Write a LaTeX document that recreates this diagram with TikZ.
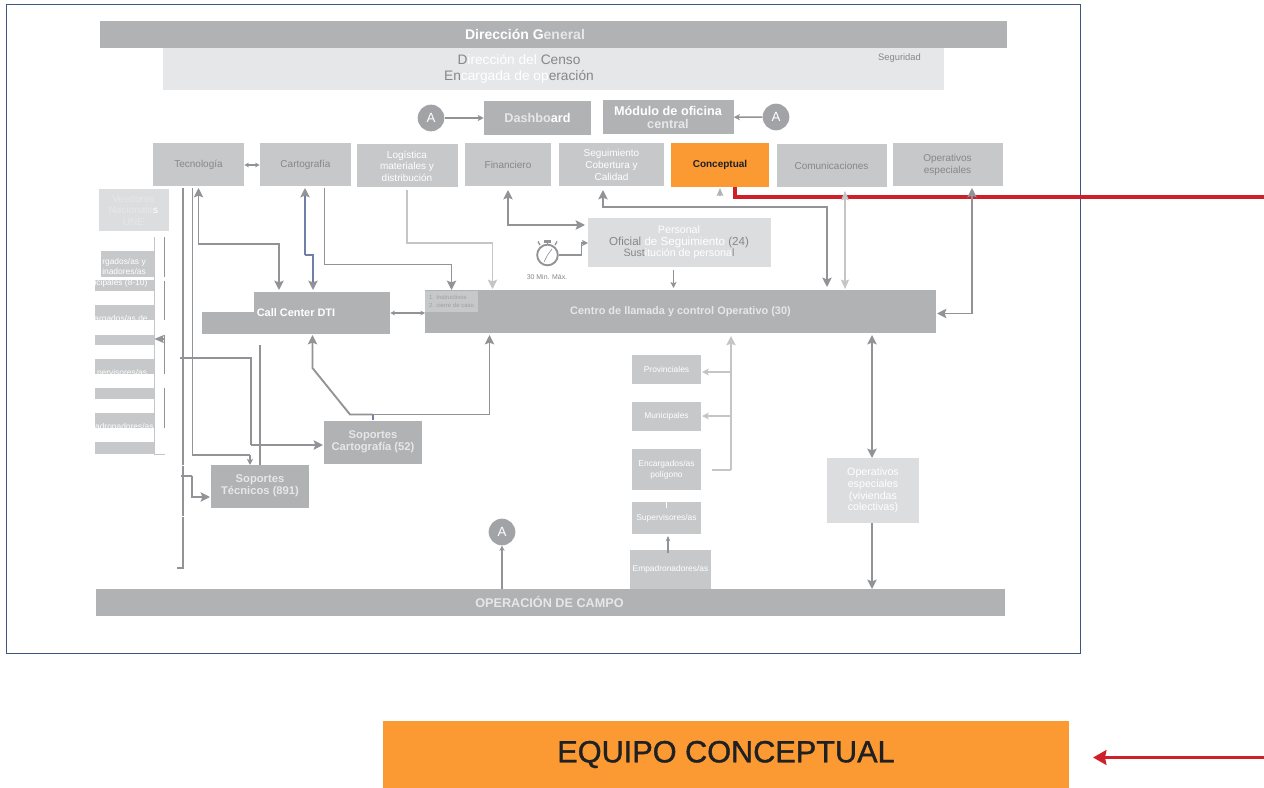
\documentclass[tikz,border=0pt]{standalone}
\usepackage{fontspec}
\setmainfont{Liberation Sans}
\usetikzlibrary{arrows.meta}
\definecolor{gA}{HTML}{B1B2B4}
\definecolor{gB}{HTML}{C7C8CA}
\definecolor{gC}{HTML}{DCDDDE}
\definecolor{gD}{HTML}{E6E7E8}
\definecolor{gT}{HTML}{85878A}
\definecolor{line}{HTML}{929396}
\definecolor{lline}{HTML}{C4C5C7}
\definecolor{orng}{HTML}{FB9A33}
\definecolor{redd}{HTML}{CE2029}
\definecolor{navy}{HTML}{3E5580}
\definecolor{blu}{HTML}{6F7FA8}
\definecolor{ink}{HTML}{1F2023}
\definecolor{circg}{HTML}{A2A3A6}
\newcommand{\fs}[2]{\fontsize{#1}{#2}\selectfont}
\newcommand{\W}[1]{\textcolor{white}{#1}}
\newcommand{\G}[1]{\textcolor{gT}{#1}}
\newcommand{\Li}[1]{\textcolor{gD}{#1}}
\tikzset{
  x=0.75pt,y=-0.75pt,
  boxa/.style={fill=gA,draw=none,inner sep=0pt,text=white,align=center,font=\fs{8.3}{9}\bfseries},
  boxb/.style={fill=gB,draw=none,inner sep=0pt,text=white,align=center,font=\fs{7.5}{8.7}},
  boxs/.style={fill=gB,draw=none,inner sep=0pt,text=white,align=center,font=\fs{6.3}{8.2}},
  boxc/.style={fill=gC,draw=none,inner sep=0pt,text=white,align=center,font=\fs{8}{8.8}},
  lab/.style={inner sep=0pt,align=center},
  hd/.tip={Stealth[length=7pt,width=7pt,inset=1.3pt]},
  conn/.style={draw=line,line width=1.4pt,-hd},
  conns/.style={draw=line,line width=1.1pt,-{Stealth[length=4.5pt,width=4.5pt,inset=1pt]}},
  both/.style={draw=line,line width=1.4pt,hd-hd},
  lconn/.style={draw=lline,line width=1.4pt,-hd},
  plain/.style={draw=line,line width=1.2pt},
  circ/.style={circle,fill=circg,draw=none,minimum size=20pt,inner sep=0pt,text=white,font=\fs{10}{10}},
}
\newcommand{\bx}[6][boxa]{\node[#1,minimum width=#4*0.75pt,minimum height=#5*0.75pt] (#2) at (#3) {#6};}
\begin{document}
\begin{tikzpicture}
\useasboundingbox (0,0) rectangle (1264,788);
\fill[white] (0,0) rectangle (1264,788);
\node[draw=navy,line width=0.7pt,minimum width=1074*0.75pt,minimum height=649*0.75pt,inner sep=0pt] (frame) at (543,329) {};
% red connector under the arrowheads
\coordinate (r1) at (735,187);
\coordinate (r2) at (1264,197);
\draw[redd,line width=2.6pt] (r1)--(735,197)--(r2);
% top
\bx{dg}{553,34.5}{907}{27}{}
\node[lab,font=\fs{10.5}{11}\bfseries] (dgt) at (525,34) {\W{Dirección G}\Li{eneral}};
\node[fill=gD,inner sep=0pt,minimum width=781*0.75pt,minimum height=42*0.75pt] (dc) at (553,69) {};
\node[lab,font=\fs{10.3}{12},text=gT] (dct) at (519,68.5) {D\W{irección del} Censo\\En\W{cargada de op}eración};
\node[lab,font=\fs{7}{8},text=gT] (seg) at (899.5,58.5) {Seguridad};
\node[circ] (a1) at (431,118) {A};
\bx{dash}{537.5,118}{107}{34}{\fs{9.5}{10}\Li{Dashbo}\W{ard}}
\bx[boxa,font=\fs{9.5}{9.7}\bfseries]{mod}{668,117.5}{131}{34}{\W{Módulo de oficina}\\\Li{central}}
\node[circ] (a2) at (776,117) {A};
% row
\bx[boxb]{tec}{198.5,165}{91}{43}{\G{Tecnología}}
\bx[boxb]{car}{305.5,165}{91}{43}{\G{Cartografía}}
\bx[boxb]{log}{407,166}{101}{43}{Logística\\materiales y\\distribución}
\bx[boxb]{fin}{508,165}{86}{43}{\G{Financiero}}
\bx[boxb]{sec}{611.5,165}{105}{43}{Seguimiento\\Cobertura y\\Calidad}
\node[fill=orng,inner sep=0pt,minimum width=98*0.75pt,minimum height=44*0.75pt,font=\fs{7.5}{9},text=ink] (con) at (720,165) {\textbf{Conceptual}};
\bx[boxb]{com}{831.5,166}{110}{43}{\G{Comunicaciones}}
\bx[boxb]{ope}{947.5,165}{110}{43}{\G{Operativos}\\\G{especiales}}
% left column
\bx[boxc,font=\fs{7.5}{8.6}]{vee}{133.5,210}{70}{42}{\Li{Veedores}\\\Li{Nacionale}\W{s}\\\Li{UNE}}
\fill[gB] (101,251) rectangle (154,277);
\fill[gB] (95,280) rectangle (154,291);
\fill[gB] (95,305) rectangle (154,320);
\fill[gB] (95,335) rectangle (154,345);
\fill[gB] (95,359) rectangle (154,374);
\fill[gB] (95,388) rectangle (154,399);
\fill[gB] (95,413) rectangle (154,428);
\fill[gB] (95,442) rectangle (154,454);
\node[lab,font=\fs{6.3}{7.5},text=white] (l1) at (124,266) {rgados/as y\\inadores/as};
\node[lab,font=\fs{6.3}{7},text=white] (l2) at (121,283) {icipales (8-10)};
\node[lab,font=\fs{6.3}{7},text=white] (l3) at (121,319) {argados/as de};
\node[lab,font=\fs{6.3}{7},text=white] (l4) at (122,373) {pervisores/as};
\node[lab,font=\fs{6.3}{7},text=white] (l5) at (122,427) {padronadores/as};
\draw[lline,line width=0.7pt] (154,237)--(154,454)--(165,454);
\foreach \a/\b in {237/277,281/320,335/374,388/428}{\draw[line,line width=0.8pt] (164.5,\a)--(164.5,\b);}
\coordinate (lh) at (165,339);
\coordinate (lt) at (154.5,339);
\draw[draw=line,line width=1pt,-{Stealth[length=7pt,width=6pt,inset=1pt]}] (lh)--(lt);
% vertical trunks
\coordinate (t1) at (183,188); \coordinate (t1b) at (183,568);
\coordinate (t2) at (192.5,188); \coordinate (t2b) at (192.5,455);
\draw[plain] (t1)--(t1b)--(177,568);
\draw[plain] (t2)--(t2b)--(250,455);
\draw[conns] (250,455)--(250,465);
\draw[white,line width=1pt] (183,464.5)--(183,466);
\draw[white,line width=1pt] (183,515.5)--(183,517);
% Call center
\fill[gA] (254,292) rectangle (390,334);
\fill[gA] (202,312) rectangle (254,334);
\node[inner sep=0pt,minimum width=188*0.75pt,minimum height=42*0.75pt] (cc) at (296,313) {};
\node[lab,font=\fs{8.2}{9}\bfseries,text=white] (cct) at (296,312.5) {Call Center DTI};
\bx{cen}{680.5,311.5}{511}{43}{}
\node[lab,font=\fs{8.2}{9}\bfseries] (cent) at (680.5,311.5) {\Li{Centro de llamada y control Operativo (30)}};
\node[fill=gB,inner sep=0pt,minimum width=53*0.75pt,minimum height=21*0.75pt,font=\fs{4.5}{6},text=gT!80,align=left] (ins) at (451.5,301) {1. Instructivos\\2. cierre de caso};
\bx[boxc]{per}{679,242.5}{183}{49}{\W{Personal}\\\fs{8.7}{8.8}\G{Oficial} \W{de Seguimiento} \G{(24)}\\\G{Sust}\W{itución de persona}\G{l}}
\bx[boxa,font=\fs{8.4}{9}\bfseries]{sc}{373,442}{98}{43}{\Li{Soportes}\\\Li{Cartografía (52)}}
\bx[boxa,font=\fs{8.4}{9}\bfseries]{st}{260,486}{98}{43}{\Li{Soportes}\\\Li{Técnicos (891)}}
\bx[boxs]{pro}{666.5,369}{69}{29}{Provinciales}
\bx[boxs]{mun}{666.5,416}{69}{29}{Municipales}
\bx[boxs]{enc}{666.5,469.5}{69}{41}{Encargados/as\\polígono}
\bx[boxs]{sup}{666.5,518}{69}{32}{Supervisores/as}
\bx[boxs]{emp}{670.5,569.5}{81}{40}{Empadronadores/as}
\bx[boxc]{oe}{873,490.5}{92}{65}{Operativos\\especiales\\(viviendas\\colectivas)}
\bx{cam}{550,602.5}{909}{27}{}
\node[lab,font=\fs{9.5}{10}\bfseries] (camt) at (549.5,602) {\Li{OPERACIÓN DE CAMPO}};
\node[circ] (a3) at (502,532) {A};
% connectors
\draw[conns] (a1)--(dash);
\draw[conns] (a2)--(mod);
\draw[draw=line,line width=0.8pt,{Stealth[length=3.5pt,width=3.5pt]}-{Stealth[length=3.5pt,width=3.5pt]}] (tec)--(car);
\draw[both] (198.5,188)--(198.5,244)--(279,244)--(279,290);
\draw[draw=blu,line width=1.4pt,-{Stealth[length=7pt,width=7pt,inset=1.3pt,color=line]}] (305,255)--(313,255)--(313,290);
\draw[draw=blu,line width=1.4pt,-{Stealth[length=7pt,width=7pt,inset=1.3pt,color=line]}] (305,255)--(305,188);
\draw[conn] (324.5,188)--(324.5,264.5)--(451.5,264.5)--(451.5,290);
\draw[lconn] (407,190)--(407,243)--(492.5,243)--(492.5,289);
\draw[both] (508,190)--(508,225)--(585,225);
\draw[both] (603,190)--(603,207)--(827,207)--(827,287);
\draw[draw=line!70,line width=0.8pt,-{Stealth[length=6pt,width=5pt,inset=1pt]}] (720,196)--(720,188);
\draw[draw=lline,line width=1.1pt,{Stealth[length=7pt,width=6pt,inset=1pt]}-{Stealth[length=7pt,width=6pt,inset=1pt]}] (845,191)--(845,289);
\draw[both] (972,188)--(972,313.5)--(937,313.5);
\coordinate (pa) at (673.5,270);
\coordinate (pb) at (673.5,288);
\draw[conns] (pa)--(pb);
\draw[draw=line,line width=0.8pt,{Stealth[length=3.5pt,width=3.5pt]}-{Stealth[length=3.5pt,width=3.5pt]}] (cc.east)--(425,313);
% clock
\node[circle,draw=line,line width=1.4pt,fill=white,minimum size=15.5pt,inner sep=0pt] (clk) at (547.5,255) {};
\fill[line] (544,240.5) rectangle (551,243);
\draw[line,line width=1.2pt] (547.5,243)--(547.5,245);
\draw[line,line width=1pt] (557,241.5)--(555,245);
\draw[line,line width=1pt] (538,241.5)--(540,245);
\draw[gT,line width=0.4pt] (547.5,255)--(552,249);
\draw[gT,line width=0.4pt] (547.5,255)--(544,262);
\node[lab,font=\fs{5.2}{6},text=gT] (clkt) at (547,276.5) {30 Min. Máx.};
\draw[conns] (clk.east)--(581.5,255)--(581.5,243)--(588,243);
% soportes
\coordinate (sj) at (373,414.5);
\draw[conn] (sj)--(350,414.5)--(312.5,368)--(312.5,335);
\draw[conn] (sj)--(489.5,414.5)--(489.5,335);
\draw[draw=blu,line width=1.4pt] (sc.north)--(sj);
\draw[plain] (180,358)--(251,358)--(251,445);
\draw[conn] (251,445)--(323,445);
\draw[plain] (260,345)--(260,465);
\draw[plain] (181,476)--(192,476);
\draw[conn] (192,476)--(192,497)--(210,497);
% field
\draw[lconn,line width=1.1pt] (731,470)--(731,336);
\draw[draw=lline,line width=1.1pt] (712,470)--(731,470);
\draw[draw=lline,line width=1.1pt,-{Stealth[length=5pt,width=5pt,inset=1pt]}] (731,372)--(702,372);
\draw[draw=lline,line width=1.1pt,-{Stealth[length=5pt,width=5pt,inset=1pt]}] (731,416)--(702,416);
\draw[white,line width=0.8pt] (666.5,502)--(666.5,508);
\draw[draw=line,line width=1.1pt,-{Stealth[length=4pt,width=3.5pt]}] (668,553)--(668,536);
\draw[both] (872,458)--(872,335);
\draw[conn] (872,523)--(872,589);
\draw[draw=line,line width=1.2pt,-{Stealth[length=4pt,width=4pt]}] (502,589)--(a3);
% bottom
\node[fill=orng,inner sep=0pt,minimum width=686*0.75pt,minimum height=67*0.75pt,font=\fs{23}{24},text=ink] (eq) at (726,754.5) {\fontspec{Liberation Sans}[FakeBold=1.2]\raisebox{3pt}{EQUIPO CONCEPTUAL}};
\coordinate (rs) at (1264,757.5);
\coordinate (rt) at (1093,757.5);
\draw[redd,line width=2.2pt,-{Stealth[length=10pt,width=11pt,inset=1pt]}] (rs)--(rt);
\end{tikzpicture}
\end{document}
